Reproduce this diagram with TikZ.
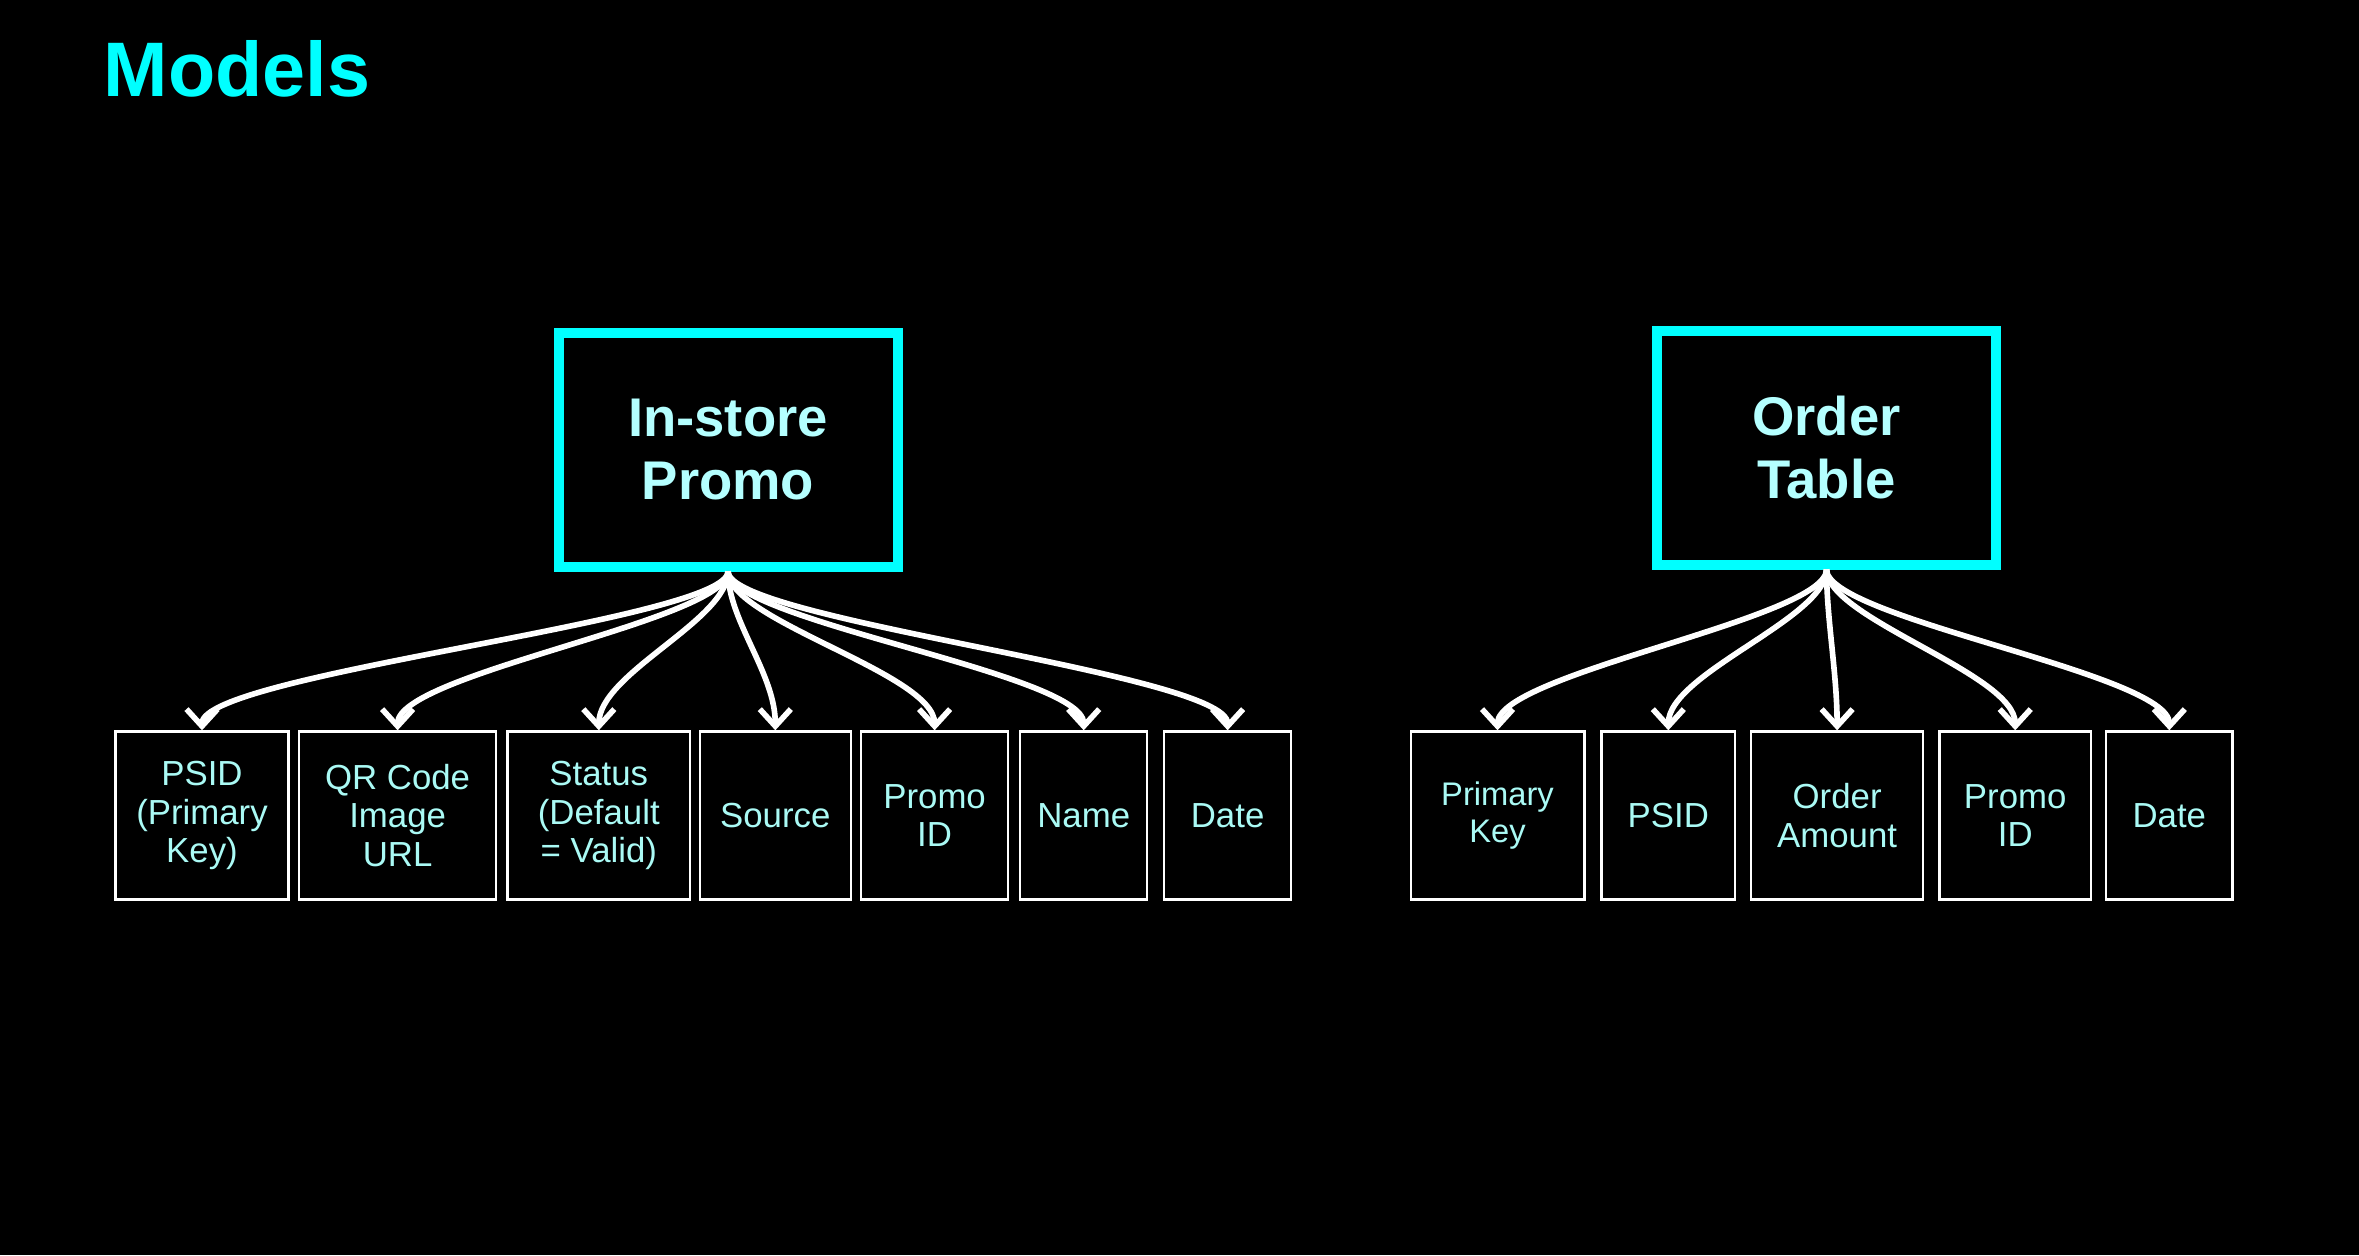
\documentclass[tikz,border=0pt]{standalone}
\usepackage{fontspec}
\setmainfont{Liberation Sans}
\usepackage{tikz}
\usetikzlibrary{arrows.meta}
\definecolor{aqua}{RGB}{0,255,255}
\definecolor{paleaqua}{RGB}{180,255,255}
\definecolor{fieldaqua}{RGB}{170,250,245}
\tikzset{
    model/.style={draw=aqua, line width=1mm, minimum width=3.39cm, minimum height=2.34cm, align=center, text=paleaqua, font=\bfseries\fontsize{15.5}{17.7}\selectfont},
    field/.style={draw=white, line width=0.7pt, minimum height=1.68cm, align=center, text=fieldaqua, font=\fontsize{9.9}{11}\selectfont},
    link/.style={white, line width=1.6pt, -{Straight Barb[length=1.7mm, width=3.1mm]}},
    curvy/.style={out=-90, in=90, out distance=4.9mm, in distance=5.7mm}
}

\begin{document}
\begin{tikzpicture}
    \fill[black] (0,0) rectangle (23.59,-12.55);
    \node[anchor=base west, inner sep=0pt, text=aqua, font=\bfseries\fontsize{22}{26}\selectfont] (title) at (1.03,-0.967) {Models};
    \node[model] (promo) at (7.28,-4.495) {In-store\\Promo};
    \node[model] (order) at (18.265,-4.475) {Order\\Table};
    \node[field, minimum width=1.73cm] (p1) at (2.02,-8.155) {PSID\\(Primary\\Key)};
    \node[field, minimum width=1.97cm] (p2) at (3.976,-8.155) {QR Code\\Image\\URL};
    \node[field, minimum width=1.825cm] (p3) at (5.988,-8.155) {Status\\(Default\\= Valid)};
    \node[field, minimum width=1.51cm] (p4) at (7.753,-8.155) {Source};
    \node[field, minimum width=1.47cm] (p5) at (9.346,-8.155) {Promo\\ID};
    \node[field, minimum width=1.27cm] (p6) at (10.837,-8.155) {Name};
    \node[field, minimum width=1.27cm] (p7) at (12.276,-8.155) {Date};
    \node[field, minimum width=1.735cm, font=\fontsize{9.3}{10.5}\selectfont] (o1) at (14.975,-8.155) {Primary\\Key};
    \node[field, minimum width=1.334cm] (o2) at (16.683,-8.155) {PSID};
    \node[field, minimum width=1.718cm] (o3) at (18.371,-8.155) {Order\\Amount};
    \node[field, minimum width=1.517cm] (o4) at (20.152,-8.155) {Promo\\ID};
    \node[field, minimum width=1.263cm] (o5) at (21.693,-8.155) {Date};
    \draw[link] (promo.south) to[curvy] (p1.north);
    \draw[link] (promo.south) to[curvy] (p2.north);
    \draw[link] (promo.south) to[curvy] (p3.north);
    \draw[link] (promo.south) to[curvy] (p4.north);
    \draw[link] (promo.south) to[curvy] (p5.north);
    \draw[link] (promo.south) to[curvy] (p6.north);
    \draw[link] (promo.south) to[curvy] (p7.north);
    \draw[link] (order.south) to[curvy] (o1.north);
    \draw[link] (order.south) to[curvy] (o2.north);
    \draw[link] (order.south) to[curvy] (o3.north);
    \draw[link] (order.south) to[curvy] (o4.north);
    \draw[link] (order.south) to[curvy] (o5.north);
\end{tikzpicture}
\end{document}
